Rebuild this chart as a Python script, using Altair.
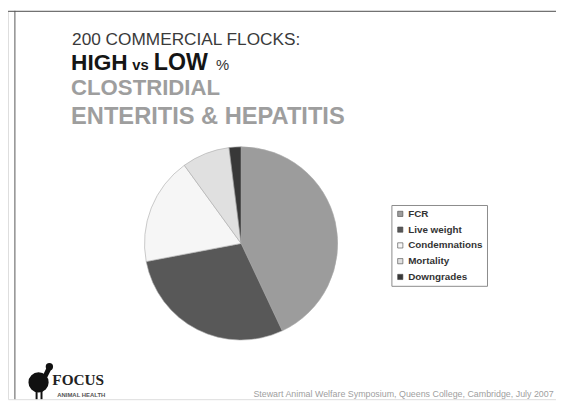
import altair as alt
import pandas as pd

categories = ["FCR", "Live weight", "Condemnations", "Mortality", "Downgrades"]
values = [43, 29, 18, 8, 2]
colors = ["#9c9c9c", "#585858", "#f6f6f6", "#e0e0e0", "#383838"]

title_line1 = "200 COMMERCIAL FLOCKS:"
title_line3 = "CLOSTRIDIAL"
title_line4 = "ENTERITIS & HEPATITIS"
footer = "Stewart Animal Welfare Symposium, Queens College, Cambridge, July 2007"

W, H = 556, 394
FONT = "Liberation Sans"

df = pd.DataFrame({"category": categories, "value": values, "idx": list(range(len(values)))})

pie = alt.Chart(df).mark_arc(radius=98, stroke="#a8a8a8", strokeWidth=0.6).encode(
    theta=alt.Theta("value:Q", stack=True),
    order=alt.Order("idx:Q"),
    color=alt.Color(
        "category:N",
        sort=categories,
        scale=alt.Scale(domain=categories, range=colors),
        legend=alt.Legend(
            title=None, orient="none", legendX=389, legendY=197,
            strokeColor="#8a8a8a", fillColor="white", padding=4,
            symbolType="square", symbolSize=28, symbolStrokeColor="#444",
            symbolStrokeWidth=0.6, labelFontSize=10, labelFont=FONT,
            labelColor="#333", labelFontWeight="bold", rowPadding=6,
            labelLimit=200, labelOffset=3,
        ),
    ),
    x=alt.value(236.5),
    y=alt.value(236),
)


def txt(s, x, y, size, color, weight="normal", font=FONT):
    return alt.Chart(pd.DataFrame({"t": [s]})).mark_text(
        align="left", baseline="alphabetic", font=font, fontSize=size,
        color=color, fontWeight=weight,
    ).encode(text="t:N", x=alt.value(x), y=alt.value(y))


texts = [
    txt(title_line1, 65, 34.5, 17.5, "#3a3a3a"),
    txt("HIGH", 64, 60, 23, "#151515", "bold"),
    txt("vs", 126, 60, 15, "#151515", "bold"),
    txt("LOW", 148, 60, 23.5, "#151515", "bold"),
    txt("%", 211, 60, 15, "#333333"),
    txt(title_line3, 64, 85.5, 22.5, "#9e9e9e", "bold"),
    txt(title_line4, 64, 115, 24, "#9e9e9e", "bold"),
    txt(footer, 249, 392, 9, "#a0a0a0"),
    txt("FOCUS", 45, 380, 15.5, "#222222", "bold", "Liberation Serif"),
    txt("ANIMAL HEALTH", 50, 392, 6, "#555555", "bold"),
]

frame = alt.Chart(pd.DataFrame({"a": [0]})).mark_rule(color="#555555", strokeWidth=1)
top_line = frame.encode(x=alt.value(0), x2=alt.value(W), y=alt.value(0.5))
left_line = frame.encode(x=alt.value(7), y=alt.value(0), y2=alt.value(H))

logo = alt.Chart(pd.DataFrame({"a": [0]})).mark_point(filled=True, color="#111111", opacity=1)
logo_body = logo.encode(x=alt.value(31), y=alt.value(377), size=alt.value(420))
logo_head = logo.encode(x=alt.value(42), y=alt.value(361), size=alt.value(55))
neck = alt.Chart(pd.DataFrame({"a": [0]})).mark_rule(color="#111111", strokeWidth=5).encode(
    x=alt.value(42), x2=alt.value(37), y=alt.value(362), y2=alt.value(372))
leg = alt.Chart(pd.DataFrame({"a": [0]})).mark_rule(color="#111111", strokeWidth=2)
leg1 = leg.encode(x=alt.value(29), y=alt.value(385), y2=alt.value(394))
leg2 = leg.encode(x=alt.value(34), y=alt.value(385), y2=alt.value(394))

chart = alt.layer(top_line, left_line, pie, neck, logo_body, logo_head, leg1, leg2, *texts).properties(
    width=W, height=H, autosize=alt.AutoSizeParams(type="none"), padding=0,
).configure_view(stroke=None).configure(background="white")

chart.save("out.html", embed_options={"renderer": "svg", "actions": False})
